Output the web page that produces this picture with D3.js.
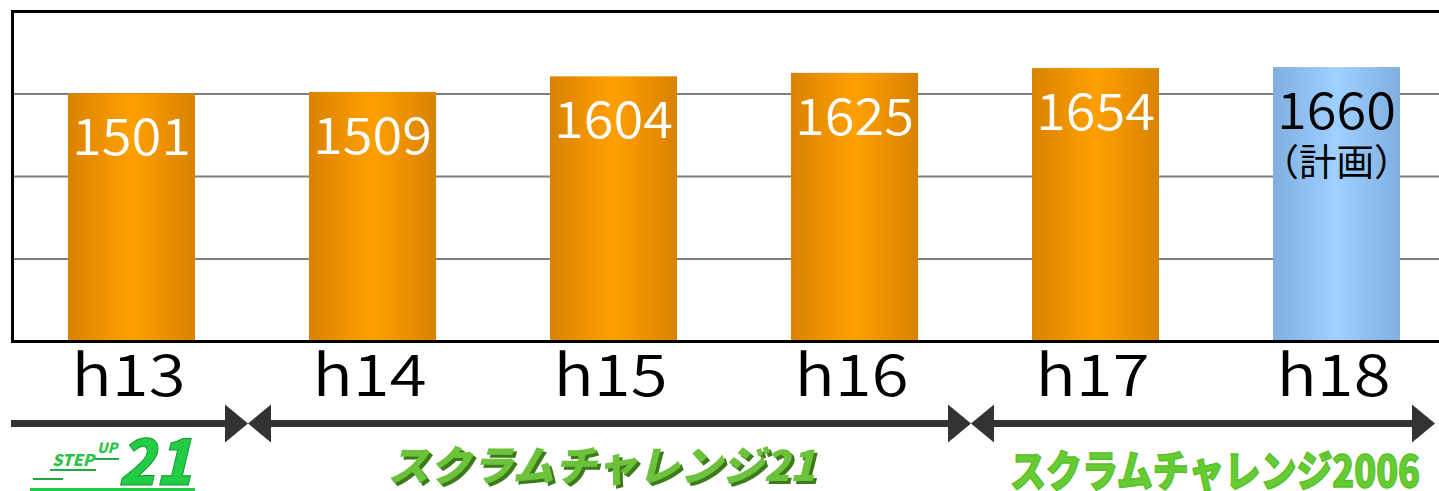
<!DOCTYPE html>
<html>
<head>
<meta charset="utf-8">
<script src="https://cdn.jsdelivr.net/npm/d3@7"></script>
<style>
  html, body { margin: 0; padding: 0; background: #fff; }
  svg { display: block; }
</style>
</head>
<body>
<div id="chart"></div>
<script>
// DATA
var years = ["h13", "h14", "h15", "h16", "h17", "h18"];
var values = [1501, 1509, 1604, 1625, 1654, 1660];
var planned = [false, false, false, false, false, true];
var gridTicks = [500, 1000, 1500, 2000];
// periods shown under the axis (first year, last year, name)
var periodStart = ["h13", "h14", "h17"];
var periodEnd = ["h13", "h16", "h18"];
var periodNames = ["STEP UP 21", "スクラムチャレンジ21", "スクラムチャレンジ2006"];

var width = 1439,
    height = 491;

var svg = d3.select("#chart").append("svg")
    .attr("width", width)
    .attr("height", height);

var x = d3.scaleBand()
    .domain(years)
    .range([11, 1457])
    .paddingInner(0.473)
    .paddingOuter(0.2365);

var y = d3.scaleLinear()
    .domain([0, 2000])
    .range([341, 11]);

var defs = svg.append("defs");

// gradients for the bars
function barGradient(id, edge, mid) {
    var g = defs.append("linearGradient")
        .attr("id", id)
        .attr("x1", "0%").attr("x2", "100%")
        .attr("y1", "0%").attr("y2", "0%");
    g.append("stop").attr("offset", "0%").attr("stop-color", edge);
    g.append("stop").attr("offset", "50%").attr("stop-color", mid);
    g.append("stop").attr("offset", "100%").attr("stop-color", edge);
}
barGradient("orangeGrad", "#d98200", "#ff9f00");
barGradient("blueGrad", "#80afdf", "#9fd0ff");

// shadow for the logo text
var shadow = defs.append("filter").attr("id", "logoShadow")
    .attr("x", "-5%").attr("y", "-20%").attr("width", "110%").attr("height", "140%");
shadow.append("feDropShadow")
    .attr("dx", 3).attr("dy", 3).attr("stdDeviation", 0.3)
    .attr("flood-color", "#3d7a1a").attr("flood-opacity", 1);

// gridlines
svg.append("g")
    .selectAll("line")
    .data(gridTicks.filter(function(d) { return d < 2000; }))
    .enter().append("line")
    .attr("x1", 12).attr("x2", width)
    .attr("y1", function(d) { return y(d) + 0.5; })
    .attr("y2", function(d) { return y(d) + 0.5; })
    .attr("stroke", "#7f7f7f")
    .attr("stroke-width", 2);

// bars
svg.append("g")
    .selectAll("rect")
    .data(values)
    .enter().append("rect")
    .attr("x", function(d, i) { return x(years[i]); })
    .attr("y", function(d) { return y(d); })
    .attr("width", x.bandwidth())
    .attr("height", function(d) { return y(0) - y(d); })
    .attr("fill", function(d, i) { return planned[i] ? "url(#blueGrad)" : "url(#orangeGrad)"; });

// frame: top, left, bottom
svg.append("line")
    .attr("x1", 11).attr("x2", width)
    .attr("y1", y(2000) + 0.5).attr("y2", y(2000) + 0.5)
    .attr("stroke", "#000").attr("stroke-width", 3);
svg.append("line")
    .attr("x1", 12.5).attr("x2", 12.5)
    .attr("y1", y(2000) - 1).attr("y2", y(0) + 2)
    .attr("stroke", "#000").attr("stroke-width", 3);
svg.append("line")
    .attr("x1", 11).attr("x2", width)
    .attr("y1", y(0) + 0.5).attr("y2", y(0) + 0.5)
    .attr("stroke", "#000").attr("stroke-width", 3);

// value labels
var labels = svg.append("g")
    .style("font-family", "'Noto Sans CJK JP', 'Noto Sans', sans-serif")
    .attr("text-anchor", "middle");

labels.selectAll("text.val")
    .data(values)
    .enter().append("text")
    .attr("class", "val")
    .attr("x", function(d, i) { return x(years[i]) + x.bandwidth() / 2; })
    .attr("y", function(d) { return y(d) + 62; })
    .style("font-size", "51px")
    .style("font-weight", 350)
    .attr("textLength", 119)
    .attr("lengthAdjust", "spacingAndGlyphs")
    .attr("fill", function(d, i) { return planned[i] ? "#000" : "#fff"; })
    .text(function(d) { return d; });

labels.selectAll("text.plan")
    .data(values.filter(function(d, i) { return planned[i]; }))
    .enter().append("text")
    .attr("class", "plan")
    .attr("x", x(years[planned.indexOf(true)]) + x.bandwidth() / 2)
    .attr("y", function(d) { return y(d) + 109; })
    .style("font-size", "37px")
    .style("font-weight", 400)
    .attr("textLength", 150)
    .attr("lengthAdjust", "spacingAndGlyphs")
    .attr("fill", "#000")
    .text("（計画）");

// x axis labels
var xAxis = d3.axisBottom(x).tickSize(0).tickPadding(0);
var xg = svg.append("g")
    .attr("transform", "translate(0," + 396 + ")")
    .call(xAxis);
xg.select(".domain").remove();
xg.selectAll("text")
    .attr("dy", 0)
    .attr("y", 0)
    .attr("x", -3)
    .style("font-family", "'Noto Sans CJK JP', 'Noto Sans', sans-serif")
    .style("font-weight", 350)
    .style("font-size", "57px")
    .attr("textLength", 114)
    .attr("lengthAdjust", "spacingAndGlyphs")
    .attr("fill", "#000");

// period arrows
var step = x.step();
function leftEdge(i) {
    return i === 0 ? 11 : x(periodStart[i]) - step * x.paddingInner() / 2;
}
function rightEdge(i) {
    return i === periodNames.length - 1 ? width : x(periodEnd[i]) + x.bandwidth() + step * x.paddingInner() / 2;
}
var arrowY = 423.5,
    headLen = 23,
    headHalf = 19;

var arrows = svg.append("g").attr("fill", "#333");
periodNames.forEach(function(name, i) {
    var x0 = leftEdge(i) - (i === 0 ? 0 : 4),
        x1 = rightEdge(i) - 4;
    var lineStart = i === 0 ? x0 : x0 + headLen - 2;
    arrows.append("rect")
        .attr("x", lineStart)
        .attr("y", arrowY - 3.5)
        .attr("width", x1 - headLen + 2 - lineStart)
        .attr("height", 7);
    arrows.append("path")
        .attr("d", "M" + (x1 - headLen) + "," + (arrowY - headHalf) +
            "L" + x1 + "," + arrowY +
            "L" + (x1 - headLen) + "," + (arrowY + headHalf) + "Z");
    if (i > 0) {
        arrows.append("path")
            .attr("d", "M" + (x0 + headLen) + "," + (arrowY - headHalf) +
                "L" + x0 + "," + arrowY +
                "L" + (x0 + headLen) + "," + (arrowY + headHalf) + "Z");
    }
});

// period logos
var logos = svg.append("g")
    .style("font-family", "'Noto Sans CJK JP', sans-serif")
    .style("font-weight", 900);

// STEP UP 21
logos.append("text")
    .attr("x", 52).attr("y", 466)
    .attr("fill", "#2ac447")
    .style("font-style", "italic")
    .style("font-size", "16px")
    .attr("textLength", 42)
    .attr("lengthAdjust", "spacingAndGlyphs")
    .text("STEP");
logos.append("text")
    .attr("x", 97).attr("y", 453)
    .attr("fill", "#2ac447")
    .style("font-style", "italic")
    .style("font-size", "14px")
    .text("UP");
logos.append("text")
    .attr("x", 118).attr("y", 485)
    .attr("fill", "#22cc44")
    .attr("stroke", "#119933")
    .attr("stroke-width", 1)
    .style("font-style", "italic")
    .style("font-size", "64px")
    .attr("textLength", 74)
    .attr("lengthAdjust", "spacingAndGlyphs")
    .text("21");
logos.append("rect")
    .attr("x", 30).attr("y", 488).attr("width", 165).attr("height", 3)
    .attr("fill", "#22cc44");
logos.append("rect")
    .attr("x", 50).attr("y", 469).attr("width", 46).attr("height", 2)
    .attr("fill", "#22aa44");
logos.append("rect")
    .attr("x", 95).attr("y", 458).attr("width", 24).attr("height", 2)
    .attr("fill", "#22aa44");
logos.append("rect")
    .attr("x", 33).attr("y", 478).attr("width", 30).attr("height", 2)
    .attr("fill", "#22aa44");

// スクラムチャレンジ21
logos.append("text")
    .attr("x", 387).attr("y", 481)
    .attr("fill", "#6cc23a")
    .attr("filter", "url(#logoShadow)")
    .style("font-style", "italic")
    .style("font-size", "42px")
    .attr("textLength", 428)
    .attr("lengthAdjust", "spacingAndGlyphs")
    .text(periodNames[1]);

// スクラムチャレンジ2006
logos.append("text")
    .attr("x", 1010).attr("y", 487)
    .attr("fill", "#66cc33")
    .attr("stroke", "#5cbf2a")
    .attr("stroke-width", 1.5)
    .style("font-size", "43px")
    .attr("textLength", 410)
    .attr("lengthAdjust", "spacingAndGlyphs")
    .text(periodNames[2]);
</script>
</body>
</html>
